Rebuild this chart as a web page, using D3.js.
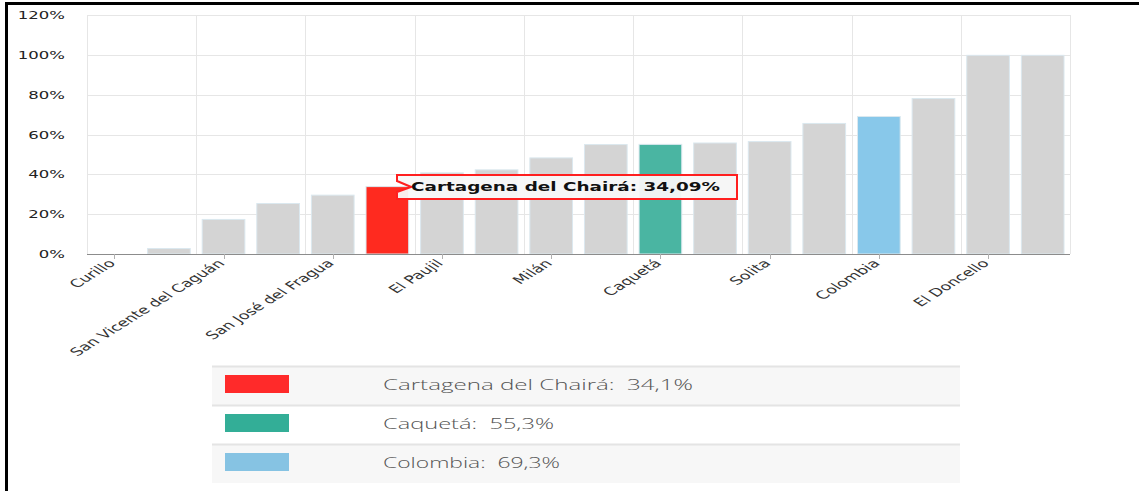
<!DOCTYPE html>
<html>
<head>
<meta charset="utf-8">
<script src="https://cdn.jsdelivr.net/npm/d3@7"></script>
<style>
  html, body { margin: 0; padding: 0; background: #fff; }
  svg { display: block; }
  text { white-space: pre; }
</style>
</head>
<body>
<svg id="chart" width="1139" height="491"></svg>
<script>
// ---- data ----
const categories = [
  "Curillo", "Solano", "San Vicente del Caguán", "Belén de los Andaquíes",
  "San José del Fragua", "Cartagena del Chairá", "El Paujil", "Puerto Rico",
  "Milán", "La Montañita", "Caquetá", "Morelia", "Solita", "Florencia",
  "Colombia", "Albania", "El Doncello", "Valparaíso"
];
const values = [0, 3, 17.6, 25.6, 29.8, 34.09, 41.0, 42.5, 48.5, 55.2, 55.3, 56.0, 56.7, 65.8, 69.3, 78.3, 100, 100];
const highlightNames = ["Cartagena del Chairá", "Caquetá", "Colombia"];
const highlightBarColors = ["#ff2a1f", "#4ab5a2", "#88c8ea"];
const legendColors = ["#ff2a2a", "#33ae97", "#86c3e3"];
const legendLabels = ["Cartagena del Chairá:  34,1%", "Caquetá:  55,3%", "Colombia:  69,3%"];
const yTicks = [0, 20, 40, 60, 80, 100, 120];
const tooltipText = "Cartagena del Chairá: 34,09%";

(function () {
// ---- layout ----
const svg = d3.select("#chart");
const pLeft = 87, pRight = 1070, pTop = 15, pBottom = 254;
const SX = 1.5; // horizontal stretch of the original rendering

const x = d3.scaleBand().domain(categories).range([pLeft, pRight]).paddingInner(0.2).paddingOuter(0.1);
const y = d3.scaleLinear().domain([0, 120]).range([pBottom, pTop]);
const step = x.step();

// frame lines
svg.append("rect").attr("x", 5).attr("y", 2).attr("width", 1134).attr("height", 3).attr("fill", "#000");
svg.append("rect").attr("x", 5).attr("y", 2).attr("width", 3).attr("height", 489).attr("fill", "#000");

// horizontal grid
svg.append("g").selectAll("line").data(yTicks).join("line")
  .attr("x1", pLeft).attr("x2", pRight)
  .attr("y1", d => Math.round(y(d)) + 0.5).attr("y2", d => Math.round(y(d)) + 0.5)
  .attr("stroke", "#e6e6e6").attr("stroke-width", 1);

// vertical grid (every two categories)
const vIdx = d3.range(0, categories.length + 1, 2);
svg.append("g").selectAll("line").data(vIdx).join("line")
  .attr("x1", i => Math.round(pLeft + i * step) + 0.5).attr("x2", i => Math.round(pLeft + i * step) + 0.5)
  .attr("y1", pTop).attr("y2", pBottom)
  .attr("stroke", "#e6e6e6").attr("stroke-width", 1);

// bars
svg.append("g").selectAll("rect").data(categories).join("rect")
  .attr("x", d => x(d) + 0.5)
  .attr("y", (d, i) => y(values[i]) + 0.5)
  .attr("width", x.bandwidth() - 1)
  .attr("height", (d, i) => Math.max(0, pBottom - y(values[i]) - 0.5))
  .attr("fill", d => {
    const k = highlightNames.indexOf(d);
    return k >= 0 ? highlightBarColors[k] : "#d4d4d4";
  })
  .attr("stroke", (d, i) => values[i] > 0 ? "#dbe8ef" : "none")
  .attr("stroke-width", 1);

// x axis line
svg.append("line").attr("x1", pLeft).attr("x2", pRight).attr("y1", pBottom + 0.5).attr("y2", pBottom + 0.5)
  .attr("stroke", "#8c8c8c").attr("stroke-width", 1);

// ticks + labels (every other category)
const shown = categories.filter((d, i) => i % 2 === 0);
svg.append("g").selectAll("line").data(shown).join("line")
  .attr("x1", d => Math.round(x(d) + x.bandwidth() / 2) + 0.5)
  .attr("x2", d => Math.round(x(d) + x.bandwidth() / 2) + 0.5)
  .attr("y1", pBottom).attr("y2", pBottom + 5)
  .attr("stroke", "#b0b0b0");

svg.append("g").selectAll("text").data(shown).join("text")
  .attr("transform", d => `translate(${x(d) + x.bandwidth() / 2 + 2},${pBottom + 10}) scale(1.6,1) rotate(-45)`)
  .attr("text-anchor", "end")
  .attr("font-family", "DejaVu Sans, Verdana, sans-serif")
  .attr("font-size", 11)
  .attr("fill", "#333")
  .text(d => d);

// y axis labels
svg.append("g").selectAll("text").data(yTicks).join("text")
  .attr("transform", d => `translate(65,${y(d) + 4}) scale(${SX},1)`)
  .attr("text-anchor", "end")
  .attr("font-family", "DejaVu Sans, Verdana, sans-serif")
  .attr("font-size", 11)
  .attr("fill", "#222")
  .text(d => d + "%");

// tooltip
const tipX0 = 397, tipX1 = 737, tipY0 = 175, tipY1 = 199;
const tipAnchorX = x("Cartagena del Chairá") + x.bandwidth() + 2;
svg.append("path")
  .attr("d", `M${tipX0},${tipY0} H${tipX1} V${tipY1} H${tipX0} V192 L${tipAnchorX},187 L${tipX0},181 Z`)
  .attr("fill", "#f8f8f8").attr("fill-opacity", 0.95)
  .attr("stroke", "#ff1f1f").attr("stroke-width", 2);
svg.append("text")
  .attr("x", 411).attr("y", 191)
  .attr("font-family", "DejaVu Sans, Verdana, sans-serif")
  .attr("font-size", 13).attr("font-weight", "bold")
  .attr("fill", "#111")
  .attr("textLength", 309).attr("lengthAdjust", "spacingAndGlyphs")
  .text(tooltipText);

// legend table
const legX0 = 212, legX1 = 960;
const rowTops = [366, 405, 444];
const rowH = 39;
const lg = svg.append("g");
lg.selectAll("rect.bg").data(legendLabels).join("rect")
  .attr("class", "bg")
  .attr("x", legX0).attr("y", (d, i) => rowTops[i])
  .attr("width", legX1 - legX0).attr("height", rowH)
  .attr("fill", (d, i) => i % 2 === 0 ? "#f7f7f7" : "#ffffff");
lg.selectAll("line.sep").data(rowTops).join("line")
  .attr("class", "sep")
  .attr("x1", legX0).attr("x2", legX1)
  .attr("y1", d => d + 0.5).attr("y2", d => d + 0.5)
  .attr("stroke", "#e4e4e4").attr("stroke-width", 2);
lg.selectAll("rect.sw").data(legendColors).join("rect")
  .attr("class", "sw")
  .attr("x", 225).attr("y", (d, i) => rowTops[i] + 9)
  .attr("width", 64).attr("height", 18)
  .attr("fill", d => d);
const legLens = [310, 171, 177];
lg.selectAll("text").data(legendLabels).join("text")
  .attr("x", 383).attr("y", (d, i) => rowTops[i] + 24)
  .attr("font-family", "Open Sans, sans-serif")
  .attr("font-weight", 300)
  .attr("font-size", 15)
  .attr("fill", "#555")
  .attr("textLength", (d, i) => legLens[i]).attr("lengthAdjust", "spacingAndGlyphs")
  .text(d => d);
})();
</script>
</body>
</html>
